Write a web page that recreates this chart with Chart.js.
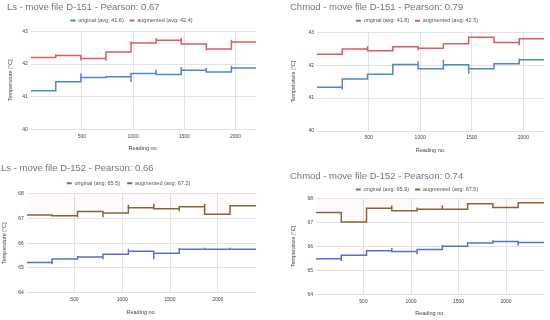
<!DOCTYPE html>
<html>
<head>
<meta charset="utf-8">
<script src="https://cdn.jsdelivr.net/npm/chart.js@4"></script>
<style>
  html, body { margin: 0; padding: 0; background: #fff; }
  .cell { position: absolute; width: 275px; height: 160px; }
</style>
</head>
<body>
<div class="cell" style="left:0;top:0"><canvas id="c1"></canvas></div>
<div class="cell" style="left:275px;top:0"><canvas id="c2"></canvas></div>
<div class="cell" style="left:0;top:160px"><canvas id="c3"></canvas></div>
<div class="cell" style="left:275px;top:160px"><canvas id="c4"></canvas></div>
<script>
// segment boundaries (reading no.) where the temperature steps
const boundsTop = [0, 245, 490, 735, 980, 1225, 1470, 1715, 1960, 2200];
const boundsBottom = [0, 266, 532, 798, 1064, 1330, 1596, 1862, 2128, 2400];
const xTicks = [500, 1000, 1500, 2000];
const yTicksTop = [40, 41, 42, 43];
const yTicksBottom = [64, 65, 66, 67, 68];

// Ls - move file D-151
const ls151Orig = [41.18, 41.46, 41.59, 41.61, 41.71, 41.68, 41.81, 41.76, 41.88];
const ls151OrigSpike = [null, 41.71, null, 41.45, 41.83, 41.91, 41.88, 41.95];
const ls151Aug = [42.20, 42.26, 42.17, 42.37, 42.65, 42.73, 42.62, 42.46, 42.68];
const ls151AugSpike = [42.30, 42.12, 42.10, 42.70, 42.80, 42.80, 42.42, 42.75];

// Chmod - move file D-151
const chmod151Orig = [41.33, 41.58, 41.72, 42.02, 41.89, 42.01, 41.89, 42.04, 42.16];
const chmod151OrigSpike = [41.26, null, null, 42.12, 42.16, 41.74, null, 42.20];
const chmod151Aug = [42.33, 42.49, 42.44, 42.56, 42.51, 42.65, 42.85, 42.69, 42.80];
const chmod151AugSpike = [null, 42.58, null, 42.45, 42.66, null, null, 42.60];

// Ls - move file D-152
const ls152Orig = [65.22, 65.36, 65.44, 65.56, 65.68, 65.60, 65.76, 65.76, 65.76];
const ls152OrigSpike = [65.15, 65.48, 65.35, 65.78, 65.35, 65.81, 65.82, 65.82];
const ls152Aug = [67.14, 67.11, 67.28, 67.22, 67.44, 67.40, 67.48, 67.17, 67.52];
const ls152AugSpike = [null, 67.05, 67.05, 67.56, 67.60, 67.29, 67.60, null];

// Chmod - move file D-152
const chmod152Orig = [65.49, 65.64, 65.82, 65.79, 65.88, 66.01, 66.15, 66.21, 66.17];
const chmod152OrigSpike = [65.40, null, 65.94, 65.68, 66.07, null, 66.26, 66.04];
const chmod152Aug = [67.43, 67.03, 67.60, 67.50, 67.56, 67.56, 67.79, 67.64, 67.83];
const chmod152AugSpike = [null, null, 67.72, 67.64, 67.72, null, null, null];

const FONT = "'Liberation Sans', Arial, sans-serif";

// step line: flat segments, vertical jump (with a small spike) at each boundary
function stepPoints(bounds, levels, spikes) {
  const pts = [];
  levels.forEach((v, i) => {
    pts.push({ x: bounds[i], y: v });
    pts.push({ x: bounds[i + 1], y: v });
    if (i < levels.length - 1 && spikes[i] != null) pts.push({ x: bounds[i + 1], y: spikes[i] });
  });
  return pts;
}

function makeChart(id, o) {
  const ds = (label, data, color, fill) => ({
    label, data,
    borderColor: color,
    backgroundColor: fill || color,
    fill: fill ? 'end' : false,
    borderWidth: 1.5,
    pointRadius: 0,
    tension: 0
  });
  return new Chart(document.getElementById(id), {
    type: 'line',
    data: {
      datasets: [
        ds('original (avg: ' + o.origAvg + ')', stepPoints(o.bounds, o.orig, o.origSpike), o.colors[0]),
        ds('augmented (avg: ' + o.augAvg + ')', stepPoints(o.bounds, o.aug, o.augSpike), o.colors[1], o.augFill)
      ]
    },
    options: {
      responsive: true,
      maintainAspectRatio: false,
      animation: false,
      devicePixelRatio: 1,
      layout: { padding: { left: o.padL, right: o.padR, top: 0, bottom: 0 } },
      plugins: {
        title: {
          display: true,
          text: o.title,
          align: 'start',
          color: '#757575',
          font: { family: FONT, size: 9.5, weight: 'normal', lineHeight: 1 },
          padding: { top: o.titleTop, bottom: 0, left: 0 }
        },
        legend: {
          maxHeight: o.legendH,
          labels: {
            boxWidth: 5,
            boxHeight: 2,
            padding: o.legendPad,
            color: '#555',
            font: { family: FONT, size: 5.5 },
            generateLabels(chart) {
              return Chart.defaults.plugins.legend.labels.generateLabels(chart).map(l => {
                l.fillStyle = l.strokeStyle;
                l.lineWidth = 0;
                return l;
              });
            }
          }
        },
        tooltip: { enabled: false }
      },
      scales: {
        x: {
          type: 'linear',
          min: 0,
          max: o.bounds[o.bounds.length - 1],
          afterBuildTicks: s => { s.ticks = xTicks.map(v => ({ value: v })); },
          afterFit: s => { s.height = o.xH; },
          grid: { color: '#e3e3e3', drawTicks: false },
          border: { display: false },
          ticks: { color: '#444', padding: 4, font: { family: FONT, size: 5 }, callback: v => String(v) },
          title: {
            display: true, text: 'Reading no.', color: '#444',
            font: { family: FONT, size: 5.5 },
            padding: { top: 0, bottom: o.xTitlePad }
          }
        },
        y: {
          min: o.yTicks[0],
          max: o.yTicks[o.yTicks.length - 1],
          afterBuildTicks: s => { s.ticks = o.yTicks.map(v => ({ value: v })); },
          afterFit: s => { s.width = o.yW; },
          grid: { color: '#e3e3e3', drawTicks: false },
          border: { display: false },
          ticks: { color: '#444', padding: 3, font: { family: FONT, size: 5 }, callback: v => String(v) },
          title: {
            display: true, text: 'Temperature [°C]', color: '#444',
            font: { family: FONT, size: 5.5 },
            padding: { top: o.yTitlePad, bottom: 0 }
          }
        }
      }
    }
  });
}

const topColors = ['#4f86d4', '#e05a60'];
const bottomColors = ['#5b6fd2', '#8a6437'];

makeChart('c1', {
  title: 'Ls - move file D-151 - Pearson: 0.67',
  bounds: boundsTop, yTicks: yTicksTop, colors: topColors,
  orig: ls151Orig, origSpike: ls151OrigSpike, origAvg: '41.6',
  aug: ls151Aug, augSpike: ls151AugSpike, augAvg: '42.4',
  padL: 7, padR: 19, titleTop: 2.5, legendPad: 5.75, legendH: 19.5,
  yW: 23.7, xH: 30.7, yTitlePad: 0, xTitlePad: 8
});
makeChart('c2', {
  title: 'Chmod - move file D-151 - Pearson: 0.79',
  bounds: boundsTop, yTicks: yTicksTop, colors: topColors,
  orig: chmod151Orig, origSpike: chmod151OrigSpike, origAvg: '41.8',
  aug: chmod151Aug, augSpike: chmod151AugSpike, augAvg: '42.5',
  padL: 15, padR: 6, titleTop: 2.8, legendPad: 5.75, legendH: 19.9,
  yW: 27, xH: 29, yTitlePad: 0, xTitlePad: 5.8
});
makeChart('c3', {
  title: 'Ls - move file D-152 - Pearson: 0.66',
  bounds: boundsBottom, yTicks: yTicksBottom, colors: bottomColors,
  augFill: 'rgba(255, 80, 80, 0.022)',
  orig: ls152Orig, origSpike: ls152OrigSpike, origAvg: '65.5',
  aug: ls152Aug, augSpike: ls152AugSpike, augAvg: '67.2',
  padL: 1, padR: 19, titleTop: 3.8, legendPad: 7.15, legendH: 20.5,
  yW: 25.7, xH: 27.3, yTitlePad: 0, xTitlePad: 4.1
});
makeChart('c4', {
  title: 'Chmod - move file D-152 - Pearson: 0.74',
  bounds: boundsBottom, yTicks: yTicksBottom, colors: bottomColors,
  augFill: 'rgba(255, 80, 80, 0.03)',
  orig: chmod152Orig, origSpike: chmod152OrigSpike, origAvg: '65.9',
  aug: chmod152Aug, augSpike: chmod152AugSpike, augAvg: '67.5',
  padL: 15, padR: 6, titleTop: 11.2, legendPad: 6.05, legendH: 18.1,
  yW: 26, xH: 25.7, yTitlePad: 0, xTitlePad: 3.1
});
</script>
</body>
</html>
